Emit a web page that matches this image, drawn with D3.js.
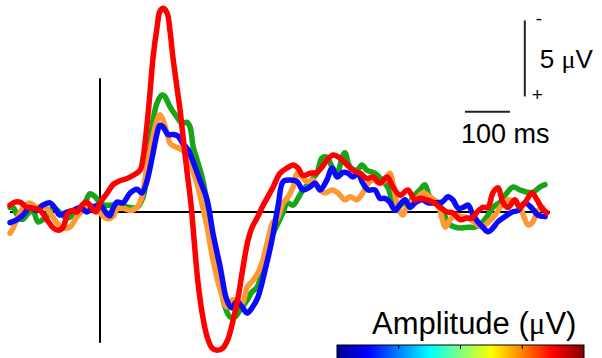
<!DOCTYPE html>
<html>
<head>
<meta charset="utf-8">
<script src="https://cdn.jsdelivr.net/npm/d3@7"></script>
<style>
  body { margin: 0; background: #fff; }
  svg { display: block; font-family: "Liberation Sans", Arial, sans-serif; }
</style>
</head>
<body>
<div id="chart"></div>
<script>
var width = 602
var height = 358

// ERP traces: [time ms, amplitude uV] (negative plotted up)
var green = [[-200,-0.3],[-193,-0.3],[-184,0.2],[-173,0.5],[-160,0.1],[-149,-0.1],[-138,0.65],[-127,0.5],[-118,0.3],[-104,-0.3],[-89,0.05],[-73,0.4],[-51,0],[-33,-0.65],[-22,-1.2],[-11,-1.0],[0,-0.6],[11,-0.45],[22,-0.45],[44,-0.45],[67,-0.3],[82,-0.3],[96,-1.0],[104,-2.55],[111,-4.3],[118,-6.05],[127,-7.2],[138,-7.7],[144,-7.6],[156,-6.9],[171,-6.25],[182,-5.85],[193,-5.9],[200,-5.6],[207,-4.3],[216,-3.4],[227,-2.3],[238,-0.6],[244,0.7],[256,2.5],[267,4.7],[278,6.25],[289,6.9],[300,6.9],[311,6.45],[327,5.8],[338,5.25],[349,4.95],[362,3.6],[378,1.85],[393,0.9],[407,0],[416,-0.6],[429,-0.45],[440,-0.9],[451,-1.45],[467,-2.0],[482,-2.55],[493,-3.55],[504,-3.6],[516,-2.95],[527,-2.55],[538,-3.6],[544,-3.9],[556,-2.95],[571,-2.75],[582,-3.1],[593,-2.75],[611,-2.55],[627,-2.1],[640,-1.6],[651,-0.6],[662,-0.25],[673,-0.6],[684,-0.45],[696,-1.0],[711,-1.45],[722,-1.8],[733,-1.0],[749,-0.65],[762,-0.1],[773,0.7],[789,1.0],[804,1.05],[818,1.0],[833,1.0],[849,0.7],[860,0.3],[873,-0.3],[889,-0.65],[904,-1.25],[918,-1.65],[933,-1.45],[949,-1.3],[962,-1.3],[978,-1.65],[989,-1.8]]

var orange = [[-200,1.4],[-193,1.05],[-182,0.3],[-171,-0.3],[-156,-0.6],[-140,-0.3],[-127,-0.45],[-111,0.05],[-96,0.7],[-82,1.05],[-67,1.0],[-51,0.3],[-38,-0.1],[-22,-0.45],[-11,-0.3],[0,0.05],[16,0.45],[29,0.3],[38,-0.2],[51,-0.25],[67,-0.1],[82,-0.3],[93,-1.0],[104,-2.95],[116,-4.7],[127,-6.05],[133,-6.4],[140,-6.05],[149,-5.2],[156,-4.5],[167,-4.3],[178,-4.15],[189,-3.9],[200,-3.2],[211,-2.3],[222,-1.1],[238,1.0],[251,3.15],[267,5.1],[282,6.25],[293,5.8],[304,5.8],[316,6.0],[327,4.95],[340,4.5],[351,4.0],[362,3.15],[373,1.85],[384,0.7],[393,0.5],[407,-0.6],[418,-1.0],[429,-1.65],[438,-2.55],[449,-2.3],[460,-2.0],[473,-2.1],[489,-1.45],[500,-1.25],[516,-1.45],[529,-1.25],[544,-0.8],[556,-1.0],[571,-0.8],[584,-1.25],[596,-1.9],[607,-2.1],[622,-1.9],[633,-2.1],[644,-2.55],[651,-1.9],[662,-0.3],[673,0.2],[678,-0.1],[689,-0.6],[704,-0.9],[718,-1.25],[733,-1.0],[749,-0.6],[760,0.4],[767,1.0],[778,0.5],[789,0.2],[804,0.3],[818,0.4],[833,0.7],[849,1.0],[862,0.7],[878,0.2],[893,-0.45],[907,-0.8],[922,-0.65],[938,0],[951,0.85],[962,0.65],[973,-0.1],[984,-0.3]]

var blue = [[-200,0.7],[-184,0.5],[-171,0.2],[-156,-0.3],[-140,-0.1],[-127,-0.45],[-111,-0.6],[-100,-0.25],[-89,0.2],[-73,0],[-60,-0.1],[-44,-0.3],[-29,0],[-16,-0.3],[0,-0.45],[16,0.15],[22,0.25],[29,-0.25],[38,-0.65],[51,-0.6],[67,-1.25],[82,-1.5],[93,-1.25],[104,-2.0],[116,-3.6],[127,-5.2],[133,-5.7],[140,-5.6],[151,-5.1],[162,-5.1],[173,-5.0],[184,-4.5],[196,-4.1],[207,-3.3],[222,-2.1],[238,-0.8],[251,1.4],[267,3.6],[282,5.8],[293,6.3],[304,5.9],[316,6.25],[327,6.65],[338,6.3],[351,5.6],[367,3.8],[382,1.85],[396,-0.45],[407,-2.0],[422,-2.1],[438,-2.0],[451,-1.45],[467,-1.65],[478,-1.9],[489,-1.45],[504,-2.1],[516,-2.9],[527,-2.3],[540,-2.6],[551,-2.55],[562,-2.3],[573,-2.55],[584,-1.9],[596,-1.45],[611,-1.45],[622,-0.9],[633,-0.9],[644,-0.65],[656,-0.1],[667,-0.5],[678,-0.8],[689,-0.3],[700,-0.6],[716,-0.8],[729,-0.6],[744,-0.6],[760,-0.65],[773,-1.0],[784,-0.8],[796,-0.25],[807,-0.3],[818,-0.45],[829,0.2],[840,0.65],[851,1.0],[862,1.3],[873,1.05],[884,0.65],[900,0.3],[916,0],[929,-0.1],[944,-0.6],[960,-0.25],[973,0.2],[989,0.3]]

var red = [[-200,-0.45],[-189,-0.65],[-178,-0.65],[-162,-0.3],[-149,-0.25],[-133,-0.1],[-118,0.5],[-104,1.05],[-93,1.2],[-82,1.0],[-73,0.2],[-62,-0.1],[-51,0],[-40,-0.45],[-29,-0.65],[-18,-0.25],[-9,0],[0,-0.6],[16,-1.25],[29,-1.8],[44,-2.05],[60,-2.2],[73,-2.4],[89,-2.75],[96,-3.6],[104,-5.6],[111,-7.8],[118,-10.2],[127,-12.2],[133,-13.2],[140,-13.4],[149,-13.1],[156,-11.8],[162,-10.2],[171,-8.2],[178,-6.7],[184,-5.1],[193,-2.75],[200,-1.1],[204,0.05],[211,2.5],[218,4.7],[227,6.65],[238,8.2],[249,8.95],[260,9.1],[273,8.95],[284,8.4],[296,7.1],[307,5.6],[318,3.6],[329,1.85],[338,1.0],[349,0.4],[360,-0.3],[371,-0.9],[384,-1.6],[400,-2.55],[416,-2.9],[429,-3.1],[440,-2.9],[451,-2.4],[467,-2.55],[482,-2.6],[493,-2.95],[504,-3.4],[518,-3.75],[533,-3.55],[549,-3.1],[562,-2.75],[578,-2.55],[593,-2.2],[607,-2.3],[622,-1.9],[638,-2.3],[651,-1.65],[667,-1.1],[684,-1.45],[700,-0.8],[711,-0.9],[727,-0.8],[740,-0.65],[756,-0.3],[771,0],[784,0.05],[800,0.5],[816,0.4],[827,0.4],[838,0],[851,-0.3],[862,-0.3],[873,-1.25],[884,-1.6],[896,-0.6],[907,-0.3],[922,-0.8],[933,-0.3],[944,-0.6],[960,-1.25],[971,-0.8],[982,-0.25],[993,0.05]]

var series = [
  {name: "green", color: "#18a518", data: green},
  {name: "orange", color: "#ff9933", data: orange},
  {name: "blue", color: "#0a0aff", data: blue},
  {name: "red", color: "#ff0000", data: red}
]

var timeRange = [-200, 1000]
var ampRange = [-8.8, 8.6]      // extent of the vertical (t = 0) line
var scaleBarUV = 5
var scaleBarMS = 100
var colorTicks = [0.25, 0.5, 0.75]

var svg = d3.select("#chart")
    .append("svg")
    .attr("width", width)
    .attr("height", height)

var x = d3.scaleLinear().domain(timeRange).range([10, 550])
// negative up
var y = d3.scaleLinear().domain([0, 5]).range([212, 288])

// zero line and onset line
svg.append("line")
    .attr("x1", x(timeRange[0])).attr("x2", x(timeRange[1]))
    .attr("y1", y(0)).attr("y2", y(0))
    .style("stroke", "#000").style("stroke-width", 2)
svg.append("line")
    .attr("x1", x(0)).attr("x2", x(0))
    .attr("y1", y(ampRange[0])).attr("y2", y(ampRange[1]))
    .style("stroke", "#000").style("stroke-width", 2)

var line = d3.line()
    .x(function(d) { return x(d[0]) })
    .y(function(d) { return y(d[1]) })
    .curve(d3.curveCatmullRom.alpha(0.5))

svg.selectAll(".trace")
    .data(series)
    .enter().append("path")
    .attr("class", "trace")
    .attr("d", function(d) { return line(d.data) })
    .style("fill", "none")
    .style("stroke", function(d) { return d.color })
    .style("stroke-width", 5.5)
    .style("stroke-linejoin", "round")
    .style("stroke-linecap", "round")

// scale bars
var barT = 944, barTop = -12.6
svg.append("line")
    .attr("x1", x(barT)).attr("x2", x(barT))
    .attr("y1", y(barTop)).attr("y2", y(barTop + scaleBarUV))
    .style("stroke", "#222").style("stroke-width", 2)
svg.append("text").attr("x", x(barT) + 11).attr("y", y(barTop) + 5)
    .text("-").style("font-size", "19px")
svg.append("text").attr("x", x(barT) + 7).attr("y", y(barTop + scaleBarUV) + 5)
    .text("+").style("font-size", "19px")
var uvLabel = svg.append("text").attr("x", x(barT) + 15).attr("y", y(barTop + scaleBarUV / 2) + 10)
    .style("font-size", "26px")
uvLabel.append("tspan").text("5 ")
uvLabel.append("tspan").text("\u03bc").style("font-family", "'Liberation Serif', serif")
uvLabel.append("tspan").text("V")

var hbT = 811, hbV = -6.6
svg.append("line")
    .attr("x1", x(hbT)).attr("x2", x(hbT + scaleBarMS))
    .attr("y1", y(hbV)).attr("y2", y(hbV))
    .style("stroke", "#222").style("stroke-width", 2)
svg.append("text").attr("x", x(hbT) - 4).attr("y", y(hbV) + 31)
    .text("100 ms").style("font-size", "27px")

// colorbar
var jet = ["#00008f", "#0000ff", "#0080ff", "#00ffff", "#80ff80", "#ffff00", "#ff8000", "#ff0000", "#800000"]
var grad = svg.append("defs").append("linearGradient").attr("id", "jet")
jet.forEach(function(c, i) {
  grad.append("stop").attr("offset", (i / (jet.length - 1) * 100) + "%").attr("stop-color", c)
})
var cb = d3.scaleLinear().domain([0, 1]).range([337, 584])
svg.append("rect")
    .attr("x", cb(0)).attr("y", 345)
    .attr("width", cb(1) - cb(0)).attr("height", 30)
    .style("fill", "url(#jet)").style("stroke", "#000").style("stroke-width", 1)
svg.selectAll(".cbtick")
    .data(colorTicks)
    .enter().append("line")
    .attr("x1", function(d) { return cb(d) }).attr("x2", function(d) { return cb(d) })
    .attr("y1", 345).attr("y2", 349)
    .style("stroke", "#000").style("stroke-width", 1)

var ampLabel = svg.append("text").attr("x", 372).attr("y", 334)
    .style("font-size", "31px")
ampLabel.append("tspan").text("Amplitude (")
ampLabel.append("tspan").text("\u03bc").style("font-family", "'Liberation Serif', serif")
ampLabel.append("tspan").text("V)")
</script>
</body>
</html>
